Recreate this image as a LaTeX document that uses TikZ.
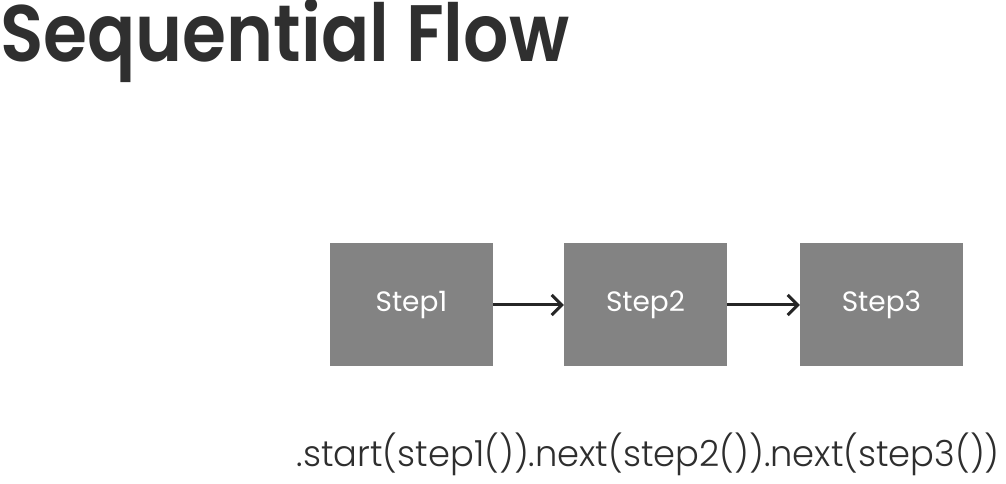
\documentclass[tikz,border=0pt]{standalone}
\usepackage{fontspec}
\setmainfont{Poppins}
\newfontfamily\titlefont{Poppins SemiBold}
\newfontfamily\lightfont{Poppins Light}
\usetikzlibrary{arrows.meta}
\definecolor{boxgray}{HTML}{838383}
\definecolor{titlegray}{HTML}{2F2F2F}
\tikzset{
  stepbox/.style={fill=boxgray, draw=none, minimum width=163pt, minimum height=123pt, inner sep=0pt, text=white, font=\fontsize{28}{32}\selectfont},
  flowarrow/.style={draw=black!85, line width=3pt, -{Straight Barb[length=10pt,width=20pt,line width=3pt]}}
}
\begin{document}
\begin{tikzpicture}[x=1pt,y=1pt]
\useasboundingbox (0,0) rectangle (1006,484);
\fill[white] (0,0) rectangle (1006,484);
\node[anchor=base west, inner sep=0pt, text=titlegray, font=\titlefont\fontsize{80}{90}\selectfont, xscale=0.89] (title) at (0,422) {Sequential Flow};
\node[stepbox] (s1) at (411.5,179) {Step1};
\node[stepbox] (s2) at (645.5,179) {Step2};
\node[stepbox] (s3) at (881.5,179) {Step3};
\draw[flowarrow] (s1.east) -- (s2.west);
\draw[flowarrow] (s2.east) -- (s3.west);
\node[anchor=base east, inner sep=0pt, text=black!82, font=\lightfont\fontsize{36}{40}\selectfont, xscale=0.98] (code) at (1000,17) {.start(step1()).next(step2()).next(step3())};
\end{tikzpicture}
\end{document}
